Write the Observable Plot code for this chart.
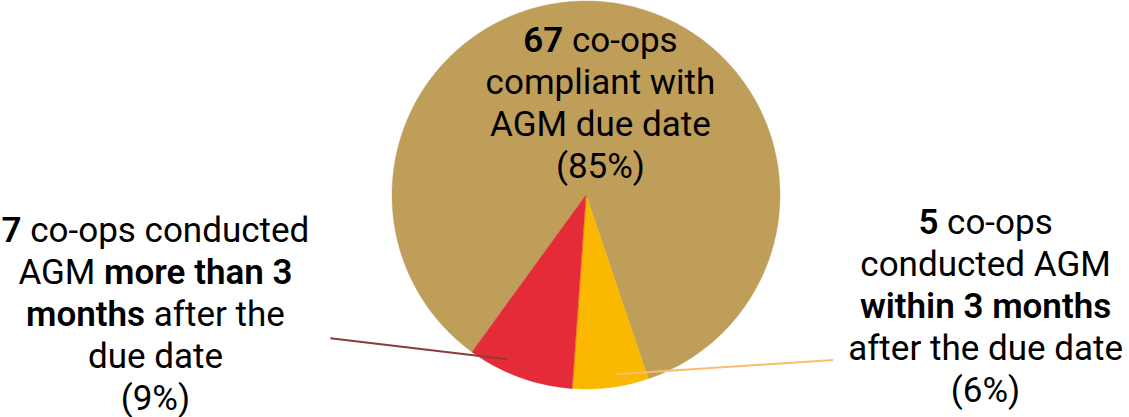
<!DOCTYPE html>
<html>
<head>
<meta charset="utf-8">
<script src="https://cdn.jsdelivr.net/npm/d3@7"></script>
<script src="https://cdn.jsdelivr.net/npm/@observablehq/plot@0.6"></script>
<style>
  html, body { margin: 0; padding: 0; background: #ffffff; }
  #chart svg { display: block; }
</style>
</head>
<body>
<div id="chart"></div>
<script>
// ---- Data ----
const categories = [
  "Compliant with AGM due date",
  "AGM within 3 months after the due date",
  "AGM more than 3 months after the due date"
];
const counts = [67, 5, 7];
const sliceColors = ["#BE9E59", "#FAB800", "#E52B38"];
const labelTexts = [
  "**67** co-ops\ncompliant with\nAGM due date\n(85%)",
  "**5** co-ops\nconducted AGM\n**within 3 months**\nafter the due date\n(6%)",
  "**7** co-ops conducted\nAGM **more than 3**\n**months** after the\ndue date\n(9%)"
];
// label anchors and leader lines, in units of the pie radius (pie centre = 0,0)
const labelX = [0.072, 2.057, -2.222];
const labelY = [0.892, -0.047, -0.084];
const leaderCategory = [categories[1], categories[2]];
const leaderX1 = [0.153, -0.409];
const leaderY1 = [-0.921, -0.844];
const leaderX2 = [1.271, -1.320];
const leaderY2 = [-0.848, -0.736];
const leaderColors = ["#F9BD6C", "#8C3A3C"];
const startAngleDeg = 216;

// ---- Pie geometry (wedges from centre to arc) ----
const a0 = startAngleDeg * Math.PI / 180;
const arcs = d3.pie().sort(null).startAngle(a0).endAngle(a0 + 2 * Math.PI)(counts);
const wedgePoints = [];
arcs.forEach((a, i) => {
  const n = Math.max(4, Math.ceil((a.endAngle - a.startAngle) / (Math.PI / 360)));
  for (let k = 0; k <= n; k++) {
    const t = a.startAngle + (a.endAngle - a.startAngle) * k / n;
    wedgePoints.push({cat: categories[i], x: Math.sin(t), y: Math.cos(t)});
  }
});
const labels = labelTexts.map((t, i) => ({text: t, x: labelX[i], y: labelY[i]}));
const leaders = leaderCategory.map((c, i) => ({
  cat: c, x1: leaderX1[i], y1: leaderY1[i], x2: leaderX2[i], y2: leaderY2[i], color: leaderColors[i]
}));

const cx = 586, cy = 195, r = 194;
const svg = Plot.plot({
  width: 1129,
  height: 417,
  margin: 0,
  style: {background: "#ffffff", overflow: "visible"},
  x: {domain: [-1, 1], range: [cx - r, cx + r], axis: null},
  y: {domain: [-1, 1], range: [cy + r, cy - r], axis: null},
  color: {domain: categories, range: sliceColors},
  marks: [
    Plot.area(wedgePoints, {
      x1: "x", y1: "y", x2: () => 0, y2: () => 0,
      z: "cat", fill: "cat", stroke: "cat", strokeWidth: 0.4
    }),
    Plot.link(leaders, {
      x1: "x1", y1: "y1", x2: "x2", y2: "y2",
      stroke: d => d.color, strokeWidth: 2
    }),
    Plot.text(labels, {
      x: "x", y: "y", text: "text",
      lineAnchor: "top", lineHeight: 1.2,
      textAnchor: "middle",
      fontSize: 35, fontFamily: "Roboto", fill: "#000000"
    })
  ]
});

// turn **bold** markup into bold tspans
svg.querySelectorAll("tspan").forEach(ts => {
  const s = ts.textContent;
  if (!s.includes("**")) return;
  const parts = s.split("**");
  ts.textContent = "";
  parts.forEach((p, i) => {
    if (!p) return;
    const t = document.createElementNS("http://www.w3.org/2000/svg", "tspan");
    if (i % 2 === 1) t.setAttribute("font-weight", "600");
    t.textContent = p;
    ts.appendChild(t);
  });
});

document.getElementById("chart").appendChild(svg);
</script>
</body>
</html>
